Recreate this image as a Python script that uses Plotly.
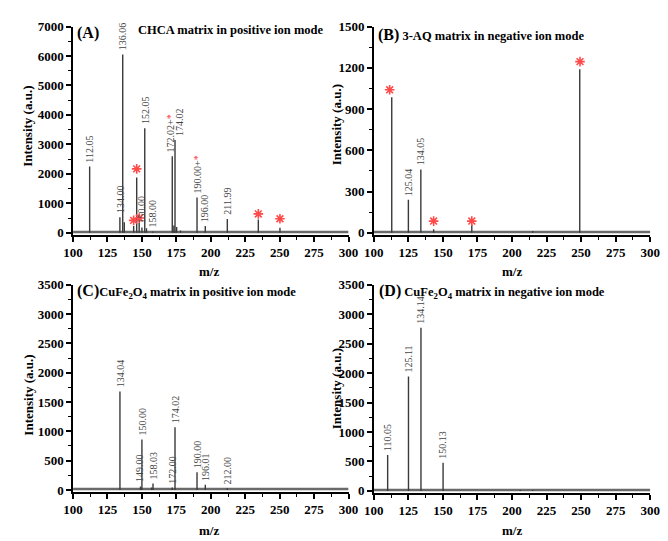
import plotly.graph_objects as go

W, H = 668, 541

# ---- spectra: (m/z, intensity) of each stick ----
a_mz = [112.05, 134.00, 136.06, 137.2, 144.0, 146.2, 148.0, 150.0, 152.05, 153.3, 158.00,
        172.02, 173.2, 174.02, 175.2, 178.0, 190.00, 196.00, 211.99, 234.5, 250.2]
a_int = [2250, 530, 6050, 360, 230, 1880, 350, 180, 3550, 150, 40,
         2600, 250, 3150, 200, 80, 1200, 230, 470, 450, 170]

b_mz = [113.0, 125.04, 134.05, 143.3, 170.9, 215.0, 249.0]
b_int = [985, 240, 460, 25, 60, 12, 1190]

c_mz = [134.04, 149.00, 150.00, 157.0, 158.03, 172.00, 174.02, 190.00, 196.01, 212.00]
c_int = [1680, 60, 860, 40, 110, 40, 1070, 300, 90, 30]

d_mz = [110.05, 125.11, 134.14, 150.13, 206.0, 215.0]
d_int = [610, 1940, 2770, 480, 15, 15]

# ---- peak labels: (m/z, intensity at label foot, text) ----
STAR = "<span style='color:#ff3b3b'>*</span>"
a_lab_mz = [112.05, 134.00, 136.06, 150.0, 152.05, 158.00, 172.02, 174.02, 190.00, 196.00, 211.99]
a_lab_y = [2250, 530, 6050, 180, 3550, 40, 2600, 3150, 1200, 230, 470]
a_lab_txt = ["112.05", "134.00", "136.06", "150.00", "152.05", "158.00",
             "172.02+" + STAR, "174.02", "190.00+" + STAR, "196.00", "211.99"]
a_lab_dx = [0, 0, 0, 0, 0, 0, -2, 5, 0, 0, 0]

b_lab_mz = [125.04, 134.05]
b_lab_y = [240, 460]
b_lab_txt = ["125.04", "134.05"]
b_lab_dx = [0, 0]

c_lab_mz = [134.04, 149.00, 150.00, 158.03, 172.00, 174.02, 190.00, 196.01, 212.00]
c_lab_y = [1680, 60, 860, 110, 40, 1070, 300, 90, 30]
c_lab_txt = ["134.04", "149.00", "150.00", "158.03", "172.00", "174.02", "190.00", "196.01", "212.00"]
c_lab_dx = [0, -1, 1, 0, 0, 0, 0, 0, 0]

d_lab_mz = [110.05, 125.11, 134.14, 150.13]
d_lab_y = [610, 1940, 2770, 480]
d_lab_txt = ["110.05", "125.11", "134.14", "150.13"]
d_lab_dx = [0, 0, 0, 0]

# ---- red asterisks marking matrix peaks ----
a_star_mz = [144.0, 146.2, 148.1, 234.5, 250.2]
a_star_y = [420, 2170, 500, 640, 475]
b_star_mz = [111.5, 143.3, 170.9, 249.2]
b_star_y = [1040, 85, 85, 1245]

# ---- axes ----
y_max = [7000, 1500, 3500, 3500]
y_dtick = [1000, 300, 500, 500]
x_ticks = [100, 125, 150, 175, 200, 225, 250, 275, 300]

SERIF = "Liberation Serif"


def px_x(p):
    return p / W


def px_y(p):
    return 1 - p / H


panels = [
    dict(mz=a_mz, inten=a_int, lmz=a_lab_mz, ly=a_lab_y, lt=a_lab_txt, ldx=a_lab_dx,
         smz=a_star_mz, sy=a_star_y, xd=(65, 349), yd=(20, 233)),
    dict(mz=b_mz, inten=b_int, lmz=b_lab_mz, ly=b_lab_y, lt=b_lab_txt, ldx=b_lab_dx,
         smz=b_star_mz, sy=b_star_y, xd=(375, 660), yd=(20, 233)),
    dict(mz=c_mz, inten=c_int, lmz=c_lab_mz, ly=c_lab_y, lt=c_lab_txt, ldx=c_lab_dx,
         smz=[], sy=[], xd=(65, 349), yd=(284, 496)),
    dict(mz=d_mz, inten=d_int, lmz=d_lab_mz, ly=d_lab_y, lt=d_lab_txt, ldx=d_lab_dx,
         smz=[], sy=[], xd=(375, 660), yd=(284, 497)),
]

fig = go.Figure()
annotations = []

for i, p in enumerate(panels):
    n = "" if i == 0 else str(i + 1)
    xr, yr = "x" + n, "y" + n
    ymax = y_max[i]

    # noisy baseline band
    fig.add_trace(go.Scatter(x=[100, 300], y=[ymax * 0.004, ymax * 0.004], mode="lines",
                             line=dict(color="#6a6a6a", width=2.5), xaxis=xr, yaxis=yr,
                             showlegend=False, hoverinfo="skip"))

    # stick spectrum
    xs, ys = [], []
    for m, h in zip(p["mz"], p["inten"]):
        xs += [m, m, None]
        ys += [0, h, None]
    fig.add_trace(go.Scatter(x=xs, y=ys, mode="lines", line=dict(color="#3a3a3a", width=1.4),
                             xaxis=xr, yaxis=yr, showlegend=False))

    # matrix-peak asterisks
    if p["smz"]:
        fig.add_trace(go.Scatter(x=p["smz"], y=p["sy"], mode="markers",
                                 marker=dict(symbol="asterisk-open", size=8, color="#ff4a4a",
                                             line=dict(color="#ff4a4a", width=1.6)),
                                 xaxis=xr, yaxis=yr, showlegend=False))

    # rotated peak labels
    for m, y, t, dx in zip(p["lmz"], p["ly"], p["lt"], p["ldx"]):
        annotations.append(dict(x=m, y=y, xref=xr, yref=yr, text=t, textangle=-90,
                                showarrow=False, xanchor="center", yanchor="bottom",
                                yshift=2, xshift=dx,
                                font=dict(family=SERIF, size=10, color="#444")))

    ax_common = dict(showline=True, linecolor="black", linewidth=1.5, ticks="outside",
                     ticklen=5, tickwidth=1.5, tickcolor="black", showgrid=False, zeroline=False,
                     tickfont=dict(family=SERIF, size=13, color="black", weight="bold"),
                     minor=dict(ticks="outside", ticklen=3, tickwidth=1, tickcolor="black"))
    fig.update_layout(**{
        "xaxis" + n: dict(domain=[px_x(p["xd"][0]), px_x(p["xd"][1])], range=[100, 300],
                          tickvals=x_ticks, anchor=yr, **ax_common),
        "yaxis" + n: dict(domain=[px_y(p["yd"][1]), px_y(p["yd"][0])],
                          range=[-ymax * 0.01, ymax], dtick=y_dtick[i], tick0=0,
                          anchor=xr, **ax_common),
    })
    fig.layout["xaxis" + n].minor.dtick = 12.5
    fig.layout["xaxis" + n].minor.tick0 = 100
    fig.layout["yaxis" + n].minor.dtick = y_dtick[i] / 2
    fig.layout["yaxis" + n].minor.tick0 = 0

# axis titles
title_font = dict(family=SERIF, size=13, color="black", weight="bold")
for (x, y) in [(205, 271), (517, 271), (205, 535), (517, 535)]:
    annotations.append(dict(x=px_x(x), y=px_y(y), xref="paper", yref="paper", text="m/z",
                            showarrow=False, xanchor="center", yanchor="middle", font=title_font))
for (x, y) in [(18, 122), (336, 120), (19, 397), (336, 390)]:
    annotations.append(dict(x=px_x(x), y=px_y(y), xref="paper", yref="paper",
                            text="Intensity (a.u.)", textangle=-90, showarrow=False,
                            xanchor="center", yanchor="middle", font=title_font))

# panel headings
head_font = dict(family=SERIF, size=12.5, color="black", weight="bold")
big = "<span style='font-size:16px'>{}</span>"
headings = [
    (67, 27, big.format("(A)")),
    (130, 24, "CHCA matrix in positive ion mode"),
    (377, 29, big.format("(B)") + " 3-AQ matrix in negative ion mode"),
    (67, 291, big.format("(C)") + "CuFe<sub>2</sub>O<sub>4</sub> matrix in positive ion mode"),
    (378, 291, big.format("(D)") + " CuFe<sub>2</sub>O<sub>4</sub> matrix in negative ion mode"),
]
for x, y, t in headings:
    annotations.append(dict(x=px_x(x), y=px_y(y), xref="paper", yref="paper", text=t,
                            showarrow=False, xanchor="left", yanchor="middle", font=head_font))

fig.update_layout(width=W, height=H, margin=dict(l=0, r=0, t=0, b=0),
                  paper_bgcolor="white", plot_bgcolor="white", annotations=annotations,
                  showlegend=False)

fig.write_html("out.html")
